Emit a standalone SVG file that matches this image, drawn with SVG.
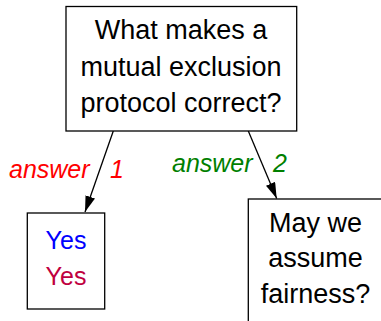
<svg xmlns="http://www.w3.org/2000/svg" width="381" height="321" viewBox="0 0 381 321">
<style>
.box{fill:#fff;stroke:#000;stroke-width:1.3}
.t{font-family:"Liberation Sans",Arial,sans-serif;font-size:27px;text-anchor:middle;fill:#000}
.lbl{font-family:"Liberation Sans",Arial,sans-serif;font-size:25px;font-style:italic}
.edge{stroke:#000;stroke-width:1.3;fill:none;marker-end:url(#ah)}
</style>
<defs>
<marker id="ah" viewBox="0 0 16 10" refX="16" refY="5" markerWidth="16" markerHeight="10" markerUnits="userSpaceOnUse" orient="auto">
<path d="M0,0 L16,5 L0,10 Z" fill="#000"/>
</marker>
</defs>
<g id="connectors">
<line class="edge" x1="113.3" y1="131" x2="85" y2="212"/>
<line class="edge" x1="248.3" y1="131" x2="276.7" y2="198.5"/>
<text class="lbl" x="9" y="178" fill="#ff0000">answer<tspan x="110">1</tspan></text>
<text class="lbl" x="172" y="171.5" fill="#007f00">answer<tspan x="273">2</tspan></text>
</g>
<g id="q">
<rect class="box" x="66" y="6.5" width="230.7" height="124.5"/>
<text class="t" x="181" y="39">What makes a</text>
<text class="t" x="181" y="76">mutual exclusion</text>
<text class="t" x="181" y="112">protocol correct?</text>
</g>
<g id="yes">
<rect class="box" x="27.3" y="213" width="77.4" height="96"/>
<text class="t" x="66" y="249" style="font-size:25px;fill:#0000ff">Yes</text>
<text class="t" x="66" y="285" style="font-size:25px;fill:#bf0040">Yes</text>
</g>
<g id="fair">
<rect class="box" x="248.3" y="199" width="136" height="130"/>
<text class="t" x="315.5" y="232">May we</text>
<text class="t" x="315.5" y="267">assume</text>
<text class="t" x="315.5" y="303">fairness?</text>
</g>
</svg>
